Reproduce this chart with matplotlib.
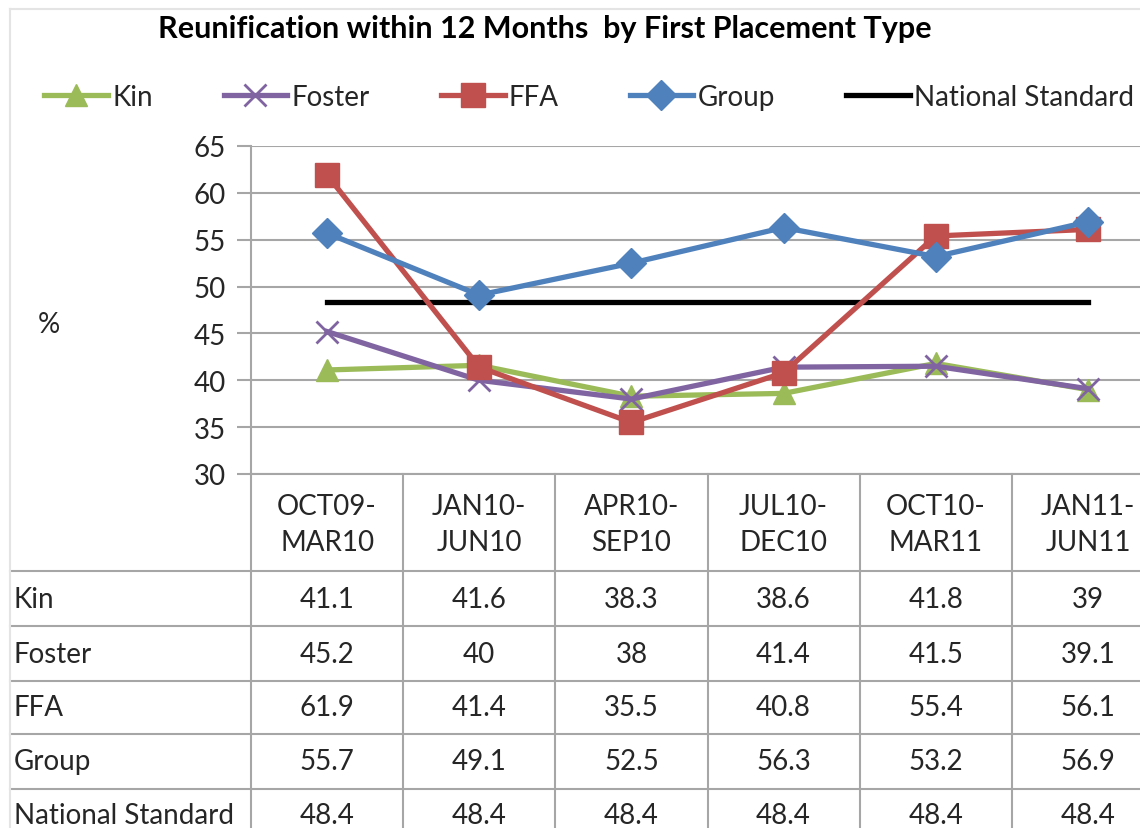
import numpy as np
import matplotlib
matplotlib.use("Agg")
import matplotlib.pyplot as plt
from matplotlib.lines import Line2D
from matplotlib.transforms import blended_transform_factory

periods = ["OCT09-\nMAR10", "JAN10-\nJUN10", "APR10-\nSEP10",
           "JUL10-\nDEC10", "OCT10-\nMAR11", "JAN11-\nJUN11"]
kin = [41.1, 41.6, 38.3, 38.6, 41.8, 39]
foster = [45.2, 40, 38, 41.4, 41.5, 39.1]
ffa = [61.9, 41.4, 35.5, 40.8, 55.4, 56.1]
group = [55.7, 49.1, 52.5, 56.3, 53.2, 56.9]
national = [48.4, 48.4, 48.4, 48.4, 48.4, 48.4]
series_names = ["Kin", "Foster", "FFA", "Group", "National Standard"]
y_ticks = [30, 35, 40, 45, 50, 55, 60, 65]

plt.rcParams["font.family"] = ["Lato", "DejaVu Sans"]
txt = "#262626"
grid_c = "#a6a6a6"
W, H = 1140, 829

fig = plt.figure(figsize=(W / 100, H / 100), dpi=100)
# plot area in pixels: x 251..1164, y 147..475
ax = fig.add_axes([251 / W, (H - 475) / H, (1164 - 251) / W, (475 - 147) / H])

x = np.arange(len(periods))
series = [kin, foster, ffa, group]
colors = ["#9bbb59", "#8064a2", "#c0504d", "#4f81bd"]
markers = ["^", "x", "s", "D"]
msizes = [16, 16, 17, 15]
for vals, c, m, ms, name in zip(series, colors, markers, msizes, series_names):
    ax.plot(x, vals, color=c, lw=3.8, marker=m, ms=ms, mew=2 if m == "x" else 1,
            mec=c, label=name, zorder=3)
ax.plot(x, national, color="black", lw=3.8, label="National Standard", zorder=2)

ax.set_xlim(-0.5, len(periods) - 0.5)
ax.set_ylim(30, 65)
ax.set_yticks(y_ticks)
ax.set_xticks([])
ax.yaxis.grid(True, color=grid_c, lw=1.5)
ax.set_axisbelow(True)
ax.tick_params(axis="y", length=10, width=1.5, color=grid_c, labelsize=20,
               labelcolor=txt, pad=8)
for s in ["top", "right"]:
    ax.spines[s].set_visible(False)
for s in ["left", "bottom"]:
    ax.spines[s].set_color(grid_c)
    ax.spines[s].set_linewidth(1.5)

fig.text(38 / W, 1 - 325 / H, "%", fontsize=20, color=txt, ha="left", va="center")

# title
fig.text(545 / W, 1 - 29 / H, "Reunification within 12 Months  by First Placement Type",
         fontsize=22, weight="bold", color="black", ha="center", va="center")

# legend
fig.legend(loc="center left", bbox_to_anchor=(44 / W, 1 - 98 / H), ncol=5,
           frameon=False, fontsize=20, handlelength=2.3, handletextpad=0.15,
           columnspacing=2.55, labelcolor=txt, borderpad=0, borderaxespad=0)

# data table under the axis
bt = blended_transform_factory(ax.transData, fig.transFigure)
fy = lambda py: 1 - py / H
row_lines = [572, 627, 682, 735, 790]
for py in row_lines:
    fig.add_artist(Line2D([10 / W, 1], [fy(py), fy(py)], color=grid_c, lw=1.5))
for i in range(1, len(periods)):
    fig.add_artist(Line2D([i - 0.5, i - 0.5], [fy(475), 0], transform=bt,
                          color=grid_c, lw=1.5))
fig.add_artist(Line2D([251 / W, 251 / W], [fy(475), 0], color=grid_c, lw=1.5))

# outer chart border
fig.add_artist(Line2D([10 / W, 10 / W], [fy(10), 0], color="#e4e4e4", lw=1.5))
fig.add_artist(Line2D([10 / W, 1], [fy(10), fy(10)], color="#e4e4e4", lw=1.5))

for i, p in enumerate(periods):
    fig.text(i, fy(525), p, transform=bt, ha="center", va="center",
             fontsize=20, color=txt, linespacing=1.45)

table_rows = [kin, foster, ffa, group, national]
row_centers = [600, 655, 708, 762, 816]
for name, vals, py in zip(series_names, table_rows, row_centers):
    fig.text(14 / W, fy(py), name, ha="left", va="center", fontsize=20, color=txt)
    for i, v in enumerate(vals):
        fig.text(i, fy(py), f"{v:g}", transform=bt, ha="center", va="center",
                 fontsize=20, color=txt)

fig.savefig("out.png", dpi=100, facecolor="white")
